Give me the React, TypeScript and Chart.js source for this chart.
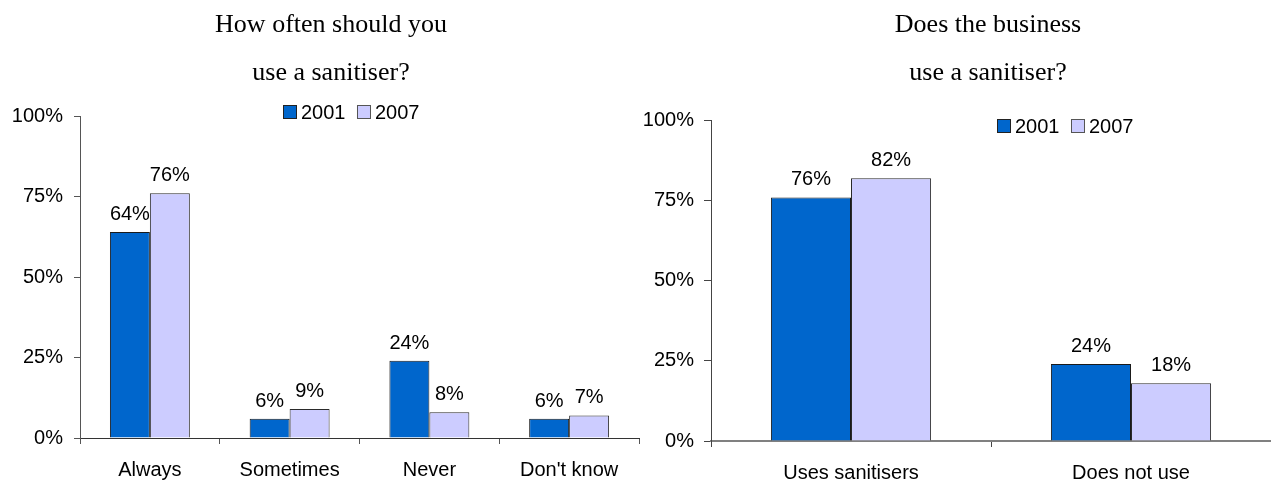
import React, { useEffect, useRef } from 'react';
import { Chart, registerables } from 'chart.js';

Chart.register(...registerables);

// ---------- data ----------
const seriesLabels = ['2001', '2007'];
const leftCategories = ['Always', 'Sometimes', 'Never', "Don't know"];
const left2001 = [64, 6, 24, 6];
const left2007 = [76, 9, 8, 7];
const rightCategories = ['Uses sanitisers', 'Does not use'];
const right2001 = [76, 24];
const right2007 = [82, 18];
const yTickValues = [0, 25, 50, 75, 100];
const leftTitle = ['How often should you', 'use a sanitiser?'];
const rightTitle = ['Does the business', 'use a sanitiser?'];

// ---------- styles ----------
const SANS = '"Liberation Sans", Arial, sans-serif';
const SERIF = '"Liberation Serif", "Times New Roman", serif';
const COLOR_2001 = '#0066CC';
const COLOR_2007 = '#CCCCFF';

const decorPlugin = {
  id: 'decor',
  afterDraw(chart: any, _args: any, opts: any) {
    const ctx = chart.ctx;
    ctx.save();
    ctx.fillStyle = '#000';
    ctx.textAlign = 'center';
    ctx.textBaseline = 'alphabetic';
    ctx.font = `26px ${SERIF}`;
    (opts.title as string[]).forEach((line, i) => {
      ctx.fillText(line, opts.titleX, opts.titleBaseline + i * 48);
    });
    ctx.font = `20px ${SANS}`;
    ctx.textAlign = 'left';
    let x = opts.legendX;
    const b = opts.legendBaseline;
    chart.data.datasets.forEach((ds: any) => {
      ctx.fillStyle = ds.backgroundColor;
      ctx.fillRect(x + 0.5, b - 13.5, 13, 13);
      ctx.strokeStyle = ds.legendBorder;
      ctx.lineWidth = 1;
      ctx.strokeRect(x + 0.5, b - 13.5, 13, 13);
      ctx.fillStyle = '#000';
      ctx.fillText(ds.label, x + 18, b);
      x += 18 + ctx.measureText(ds.label).width + 11.5;
    });
    ctx.restore();
  },
};

const valueLabelPlugin = {
  id: 'valueLabels',
  afterDatasetsDraw(chart: any) {
    const ctx = chart.ctx;
    ctx.save();
    ctx.fillStyle = '#000';
    ctx.font = `20px ${SANS}`;
    ctx.textAlign = 'center';
    ctx.textBaseline = 'alphabetic';
    chart.data.datasets.forEach((ds: any, di: number) => {
      const meta = chart.getDatasetMeta(di);
      meta.data.forEach((bar: any, i: number) => {
        ctx.fillText(`${ds.data[i]}%`, bar.x, bar.y - 12);
      });
    });
    ctx.restore();
  },
};

function makeConfig(
  categories: string[],
  d2001: number[],
  d2007: number[],
  p: {
    padTop: number;
    yWidth: number;
    xHeight: number;
    padRight: number;
    yTickLen: number;
    yPad: number;
    xBorderColor: string;
    xBorderWidth: number;
    yBorderColor: string;
    title: string[];
    titleX: number;
    legendX: number;
    legendBaseline: number;
  }
): any {
  return {
    type: 'bar',
    data: {
      labels: categories,
      datasets: [
        {
          label: seriesLabels[0],
          data: d2001,
          backgroundColor: COLOR_2001,
          borderColor: '#1a1a1a',
          legendBorder: '#222',
          borderWidth: 1,
          borderSkipped: 'start',
        },
        {
          label: seriesLabels[1],
          data: d2007,
          backgroundColor: COLOR_2007,
          borderColor: '#2a2a2a',
          legendBorder: '#555',
          borderWidth: 1,
          borderSkipped: 'start',
        },
      ],
    },
    options: {
      responsive: false,
      animation: false,
      devicePixelRatio: 1,
      layout: { padding: { top: p.padTop, bottom: 0, left: 0, right: p.padRight } },
      datasets: { bar: { categoryPercentage: 0.572, barPercentage: 1 } },
      plugins: {
        legend: { display: false },
        title: { display: false },
        tooltip: { enabled: false },
        decor: {
          title: p.title,
          titleX: p.titleX,
          titleBaseline: 32,
          legendX: p.legendX,
          legendBaseline: p.legendBaseline,
        },
      },
      scales: {
        x: {
          type: 'category',
          offset: true,
          grid: {
            display: true,
            offset: true,
            drawOnChartArea: false,
            drawTicks: true,
            tickLength: 6,
            color: p.yBorderColor,
            lineWidth: 1,
          },
          border: { display: true, color: p.xBorderColor, width: p.xBorderWidth },
          ticks: {
            color: '#000',
            font: { family: SANS, size: 20 },
            padding: 14,
            maxRotation: 0,
            autoSkip: false,
          },
          afterFit: (s: any) => {
            s.height = p.xHeight;
          },
        },
        y: {
          min: 0,
          max: 100,
          grid: {
            display: true,
            drawOnChartArea: false,
            drawTicks: true,
            tickLength: p.yTickLen,
            color: p.yBorderColor,
            lineWidth: 1,
          },
          border: { display: true, color: p.yBorderColor, width: 1 },
          ticks: {
            color: '#000',
            font: { family: SANS, size: 20 },
            padding: p.yPad,
            callback: (v: any) => `${v}%`,
          },
          afterBuildTicks: (s: any) => {
            s.ticks = yTickValues.map((v) => ({ value: v }));
          },
          afterFit: (s: any) => {
            s.width = p.yWidth;
          },
        },
      },
    },
    plugins: [valueLabelPlugin, decorPlugin],
  };
}

function BarChart({
  width,
  height,
  left,
  config,
}: {
  width: number;
  height: number;
  left: number;
  config: any;
}) {
  const ref = useRef<HTMLCanvasElement | null>(null);
  useEffect(() => {
    if (!ref.current) return;
    const chart = new Chart(ref.current, config);
    return () => chart.destroy();
  }, []);
  return (
    <canvas
      ref={ref}
      width={width}
      height={height}
      style={{ position: 'absolute', left, top: 0, width, height }}
    />
  );
}

export default function App() {
  const leftConfig = makeConfig(leftCategories, left2001, left2007, {
    padTop: 116,
    yWidth: 80,
    xHeight: 46,
    padRight: 1,
    yTickLen: 6,
    yPad: 11,
    xBorderColor: '#333',
    xBorderWidth: 1,
    yBorderColor: '#555',
    title: leftTitle,
    titleX: 331,
    legendX: 283,
    legendBaseline: 119,
  });
  const rightConfig = makeConfig(rightCategories, right2001, right2007, {
    padTop: 120.5,
    yWidth: 71,
    xHeight: 43,
    padRight: 0,
    yTickLen: 7,
    yPad: 10,
    xBorderColor: '#808080',
    xBorderWidth: 2,
    yBorderColor: '#444',
    title: rightTitle,
    titleX: 348,
    legendX: 357,
    legendBaseline: 133,
  });
  return (
    <div
      style={{
        position: 'absolute',
        left: 0,
        top: 0,
        width: 1271,
        height: 484,
        background: '#fff',
        overflow: 'hidden',
      }}
    >
      <BarChart width={640} height={484} left={0} config={leftConfig} />
      <BarChart width={631} height={484} left={640} config={rightConfig} />
    </div>
  );
}
